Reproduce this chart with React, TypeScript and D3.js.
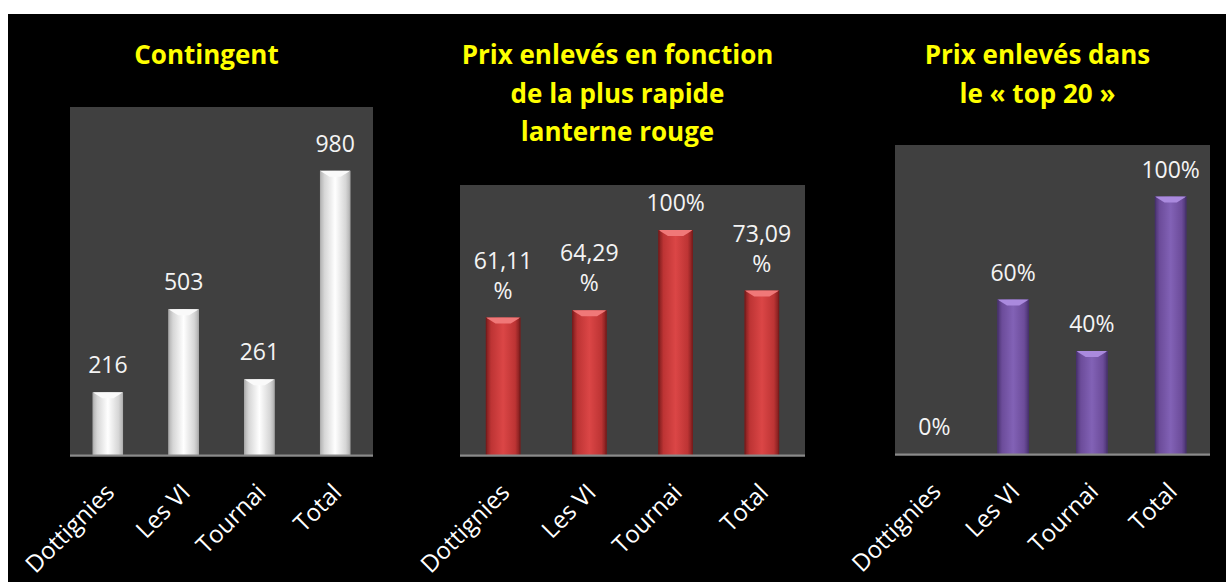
import React from "react";
import * as d3 from "d3";

const categories = ["Dottignies", "Les VI", "Tournai", "Total"];

const contingentValues = [216, 503, 261, 980];
const contingentLabels = [["216"], ["503"], ["261"], ["980"]];

const lanterneValues = [61.11, 64.29, 100, 73.09];
const lanterneLabels = [["61,11", "%"], ["64,29", "%"], ["100%"], ["73,09", "%"]];

const top20Values = [0, 60, 40, 100];
const top20Labels = [["0%"], ["60%"], ["40%"], ["100%"]];

const titles = [
  ["Contingent"],
  ["Prix enlevés en fonction", "de la plus rapide", "lanterne rouge"],
  ["Prix enlevés dans", "le « top 20 »"],
];

type Palette = { edge: string; mid: string; top: string; side: string };

const palettes: Palette[] = [
  { edge: "#d6d6d6", mid: "#ffffff", top: "#fafafa", side: "#b0b0b0" },
  { edge: "#bd3434", mid: "#db4646", top: "#f07878", side: "#7a1c1c" },
  { edge: "#6c4c9a", mid: "#8262b6", top: "#aa8ade", side: "#48326e" },
];

type PanelProps = {
  idx: number;
  x0: number;
  x1: number;
  y0: number;
  y1: number;
  max: number;
  values: number[];
  labels: string[][];
  title: string[];
};

const FONT = "'Open Sans', 'DejaVu Sans', sans-serif";

function Panel({ idx, x0, x1, y0, y1, max, values, labels, title }: PanelProps) {
  const x = d3.scaleBand<string>().domain(categories).range([x0, x1]).paddingInner(0.6).paddingOuter(0.3);
  const y = d3.scaleLinear().domain([0, max]).range([y1, y0]);
  const pal = palettes[idx];
  const gid = `grad${idx}`;
  const cx = (x0 + x1) / 2 - 15;
  return (
    <g>
      <defs>
        <linearGradient id={gid} x1="0" x2="1" y1="0" y2="0">
          <stop offset="0" stopColor={pal.side} />
          <stop offset="0.15" stopColor={pal.edge} />
          <stop offset="0.5" stopColor={pal.mid} />
          <stop offset="0.85" stopColor={pal.edge} />
          <stop offset="1" stopColor={pal.side} />
        </linearGradient>
      </defs>
      {title.map((t, i) => (
        <text
          key={i}
          x={cx}
          y={64 + i * 38.5}
          textAnchor="middle"
          fill="#ffff00"
          fontFamily={FONT}
          fontWeight="bold"
          fontSize={26}
        >
          {t}
        </text>
      ))}
      <rect x={x0} y={y0} width={x1 - x0} height={y1 - y0 + 2} fill="#404040" />
      {values.map((v, i) => {
        const bx = x(categories[i])!;
        const bw = x.bandwidth();
        const by = y(v);
        const bh = y1 - by;
        const d = Math.min(6, bh / 2);
        return (
          <g key={i}>
            {bh > 0 && (
              <>
                <rect x={bx} y={by} width={bw} height={bh} fill={`url(#${gid})`} />
                <polygon
                  points={`${bx},${by} ${bx + bw},${by} ${bx + bw - d * 1.6},${by + d} ${bx + d * 1.6},${by + d}`}
                  fill={pal.top}
                />
                <rect x={bx} y={by} width={1} height={bh} fill={pal.side} />
                <rect x={bx + bw - 1} y={by} width={1} height={bh} fill={pal.side} />
              </>
            )}
            {labels[i].map((l, j) => (
              <text
                key={j}
                x={bx + bw / 2}
                y={by - 19 - (labels[i].length - 1 - j) * 30}
                textAnchor="middle"
                fill="#f4f4f4"
                fontFamily={FONT}
                fontSize={23}
              >
                {l}
              </text>
            ))}
          </g>
        );
      })}
      <line x1={x0} x2={x1} y1={y1 + 0.5} y2={y1 + 0.5} stroke="#8a8a8a" strokeWidth={2} />
      {categories.map((c) => {
        const tx = x(c)! + x.bandwidth() / 2 + 8;
        const ty = y1 + 39;
        return (
          <text
            key={c}
            transform={`translate(${tx},${ty}) rotate(-45)`}
            textAnchor="end"
            fill="#ffffff"
            fontFamily={FONT}
            fontSize={24}
          >
            {c}
          </text>
        );
      })}
    </g>
  );
}

export default function App() {
  return (
    <svg
      width={1226}
      height={582}
      style={{ position: "absolute", left: 0, top: 0, display: "block" }}
    >
      <rect x={0} y={0} width={1226} height={582} fill="#ffffff" />
      <rect x={8} y={14} width={1218} height={568} fill="#000000" />
      <Panel idx={0} x0={70} x1={373} y0={107} y1={455} max={1200} values={contingentValues} labels={contingentLabels} title={titles[0]} />
      <Panel idx={1} x0={460} x1={805} y0={185} y1={455} max={120} values={lanterneValues} labels={lanterneLabels} title={titles[1]} />
      <Panel idx={2} x0={895} x1={1210} y0={145} y1={454} max={120} values={top20Values} labels={top20Labels} title={titles[2]} />
    </svg>
  );
}
